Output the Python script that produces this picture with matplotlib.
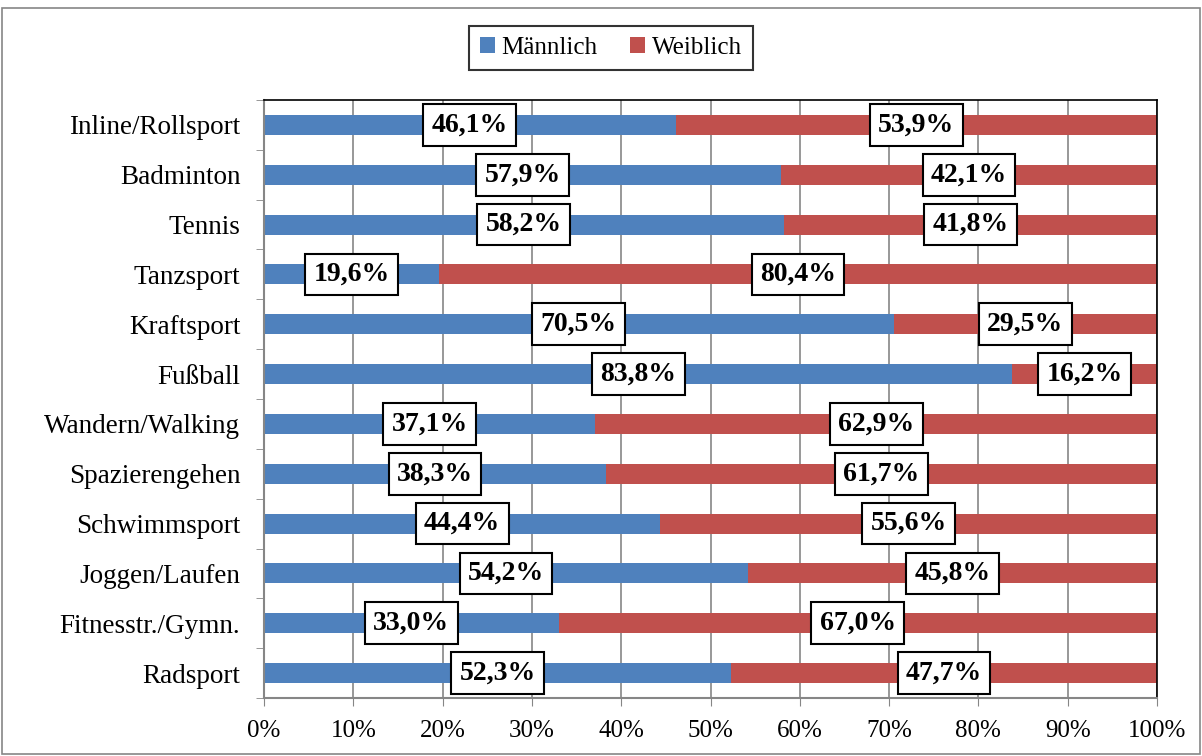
import matplotlib.pyplot as plt
from matplotlib.patches import Rectangle

# Daten
sportarten = ["Radsport", "Fitnesstr./Gymn.", "Joggen/Laufen", "Schwimmsport",
              "Spazierengehen", "Wandern/Walking", "Fußball", "Kraftsport",
              "Tanzsport", "Tennis", "Badminton", "Inline/Rollsport"]
maennlich = [52.3, 33.0, 54.2, 44.4, 38.3, 37.1, 83.8, 70.5, 19.6, 58.2, 57.9, 46.1]
weiblich = [47.7, 67.0, 45.8, 55.6, 61.7, 62.9, 16.2, 29.5, 80.4, 41.8, 42.1, 53.9]
x_ticks = [0, 10, 20, 30, 40, 50, 60, 70, 80, 90, 100]

plt.rcParams['font.family'] = ['Liberation Serif', 'DejaVu Serif']

fig = plt.figure(figsize=(12.02, 7.56), dpi=100)
ax = fig.add_axes([264/1202, 1 - 698/756, (1157 - 264)/1202, (698 - 100)/756])

blau = '#4F81BD'
rot = '#C0504D'
pos = list(range(len(sportarten)))

b1 = ax.barh(pos, maennlich, height=0.4, color=blau, label='Männlich', zorder=2)
b2 = ax.barh(pos, weiblich, left=maennlich, height=0.4, color=rot, label='Weiblich', zorder=2)

box = dict(boxstyle='square,pad=0.3', fc='white', ec='black', lw=1.5)
for i in pos:
    m = maennlich[i]
    w = weiblich[i]
    ax.text(m / 2, i, f"{m:.1f}%".replace('.', ','), ha='center', va='center',
            fontsize=20, fontweight='bold', bbox=box, zorder=4)
    ax.text(m + w / 2, i, f"{w:.1f}%".replace('.', ','), ha='center', va='center',
            fontsize=20, fontweight='bold', bbox=box, zorder=4)

ax.set_xlim(0, 100)
ax.set_ylim(-0.5, len(sportarten) - 0.5)
ax.set_xticks(x_ticks)
ax.set_xticklabels([f"{t}%" for t in x_ticks], fontsize=18)
ax.set_yticks(pos)
ax.set_yticklabels(sportarten, fontsize=19.5)
ax.set_yticks([p - 0.5 for p in pos] + [len(pos) - 0.5], minor=True)
ax.tick_params(axis='y', which='major', length=0, pad=17)
ax.tick_params(axis='y', which='minor', length=6, color='#868686', direction='out')
ax.tick_params(axis='x', length=6, color='#868686', direction='out', pad=10)

ax.grid(axis='x', color='#868686', lw=1.2, zorder=1)
for s in ['left', 'bottom']:
    ax.spines[s].set_color('#868686')
    ax.spines[s].set_linewidth(1.5)
for s in ['top', 'right']:
    ax.spines[s].set_color('black')
    ax.spines[s].set_linewidth(1.2)

leg = fig.legend(handles=[b1, b2], loc='center', bbox_to_anchor=(611/1202, 1 - 48/756),
                 ncol=2, fontsize=18, frameon=True, fancybox=False, handlelength=0.6,
                 handleheight=0.6, handletextpad=0.25, columnspacing=1.3,
                 borderpad=0.45)
leg.get_frame().set_edgecolor('black')
leg.get_frame().set_linewidth(1.5)

fig.patches.append(Rectangle((0.002, 0.002), 0.996, 0.987, transform=fig.transFigure,
                             fill=False, ec='#868686', lw=1.2))

fig.savefig('out.png', dpi=100)
